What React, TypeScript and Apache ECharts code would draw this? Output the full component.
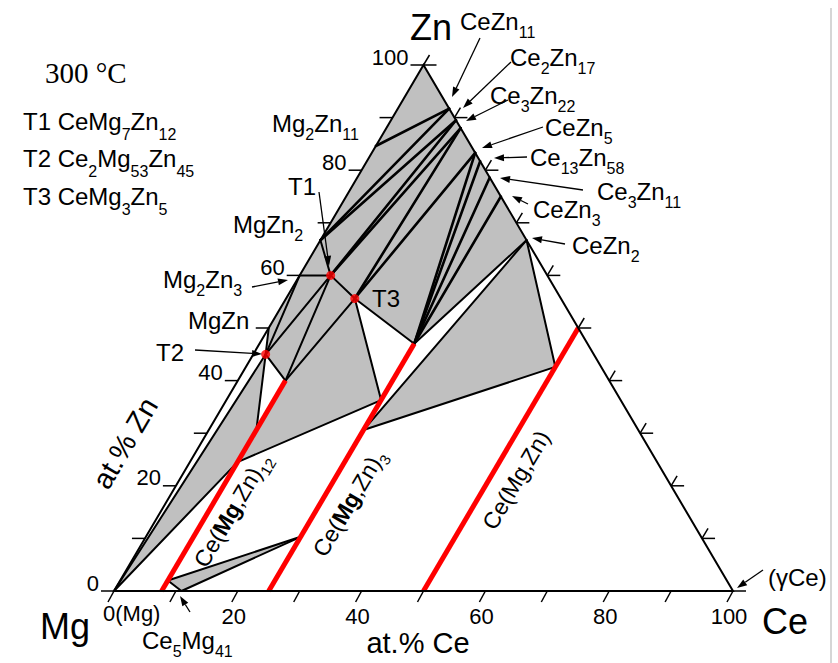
import React, { useEffect, useRef } from 'react';
import * as echarts from 'echarts';

type P = [number, number]; // [at.% Ce, at.% Zn]

const SANS = '"Liberation Sans", Arial, Helvetica, sans-serif';
const SERIF = '"Liberation Serif", "Times New Roman", serif';

// ---------- corners ----------
const MG: P = [0, 0];
const ZN: P = [0, 100];
const CE: P = [100, 0];

// ---------- Mg–Zn binary phases ----------
const MgZn: P = [0, 50];
const Mg2Zn3: P = [0, 60];
const MgZn2: P = [0, 66.7];
const Mg2Zn11: P = [0, 84.6];

// ---------- Ce–Zn binary phases ----------
const CeZn11: P = [8.3, 91.7];
const Ce2Zn17: P = [10.5, 89.5];
const Ce3Zn22: P = [12, 88];
const CeZn5: P = [16.7, 83.3];
const Ce13Zn58: P = [18.3, 81.7];
const Ce3Zn11: P = [21.4, 78.6];
const CeZn3: P = [25, 75];
const CeZn2: P = [33.3, 66.7];
const CeZn: P = [50, 50];

// ---------- Mg–Ce side ----------
const Ce5Mg41: P = [10.9, 0];

// ---------- ternary compounds ----------
const T1: P = [5, 60];
const T2: P = [2, 45];
const T3: P = [11.1, 55.6];
const TERNARY_POINTS: P[] = [T1, T2, T3];

// ---------- solid-solution lines (constant Ce) ----------
const S12_0: P = [7.7, 0];
const S12_2: P = [7.7, 2];
const S12_B: P = [7.7, 24.5];
const S12_G: P = [7.7, 30.6];
const S12_A: P = [7.7, 40];
const S3_0: P = [25, 0];
const S3_10: P = [25, 10.3];
const S3_E: P = [25, 30.6];
const S3_D: P = [25, 36.3];
const S3_C: P = [25, 47];
const S1_0: P = [50, 0];
const S1_F: P = [50, 42.6];

const RED_LINES: [P, P][] = [
  [S12_0, S12_A],
  [S3_0, S3_C],
  [S1_0, CeZn],
];

// ---------- regions ----------
const GRAY_REGIONS: P[][] = [
  [ZN, CeZn2, S1_F, S3_E, S3_D, S12_B, MG],
  [S12_2, Ce5Mg41, S3_10],
];
const WHITE_REGIONS: P[][] = [
  [MG, MgZn, T2],
  [T2, S12_A, S12_G],
  [T3, S3_C, S3_D],
  [S3_C, CeZn2, S3_E],
];

// ---------- tie lines ----------
const LOWER_TIES: [P, P][] = [
  [MG, T2], [MG, S12_B], [S12_B, S3_D], [T3, S3_D], [T3, S3_C],
  [S3_E, S1_F], [S1_F, CeZn2], [S3_E, CeZn2], [S3_C, CeZn2],
  [T2, S12_G], [T2, S12_A], [S12_A, T3], [T1, S12_A], [T1, T3], [T1, T2],
  [MgZn, T2], [Mg2Zn3, T2], [Mg2Zn3, T1], [MgZn2, T1],
  [S12_2, Ce5Mg41], [Ce5Mg41, S3_10], [S12_2, S3_10],
];
const UPPER_TIES: [P, P][] = [
  [Mg2Zn11, CeZn11], [MgZn2, CeZn11], [MgZn2, Ce2Zn17],
  [T1, Ce2Zn17], [T1, Ce3Zn22], [T3, Ce3Zn22], [T3, CeZn5],
  [S3_C, CeZn5], [S3_C, Ce13Zn58], [S3_C, Ce3Zn11], [S3_C, CeZn3],
];

// ---------- axes ----------
const TICK_VALUES = [0, 10, 20, 30, 40, 50, 60, 70, 80, 90, 100];
const ZN_LABELS = [0, 20, 40, 60, 80, 100];
const CE_LABELS = [0, 20, 40, 60, 80, 100];

// ---------- annotations (text, left x, centre y) ----------
const COMPOUND_LABELS: [string, number, number][] = [
  ['CeZn_{11}', 460, 21],
  ['Ce_{2}Zn_{17}', 510, 57],
  ['Ce_{3}Zn_{22}', 490, 95],
  ['CeZn_{5}', 545, 127],
  ['Ce_{13}Zn_{58}', 530, 157],
  ['Ce_{3}Zn_{11}', 597, 191],
  ['CeZn_{3}', 533, 209],
  ['CeZn_{2}', 572, 245],
  ['Mg_{2}Zn_{11}', 272, 123],
  ['MgZn_{2}', 233, 224],
  ['Mg_{2}Zn_{3}', 163, 279],
  ['MgZn', 188, 320],
  ['T1', 288, 186],
  ['T2', 156, 352],
  ['T3', 372, 298],
  ['(γCe)', 768, 577],
  ['Ce_{5}Mg_{41}', 142, 640],
];
const LEGEND_ROWS: [string, number][] = [
  ['T1 CeMg_{7}Zn_{12}', 121],
  ['T2 Ce_{2}Mg_{53}Zn_{45}', 158],
  ['T3 CeMg_{3}Zn_{5}', 196],
];
const PHASE_LINE_LABELS: [string, number, number][] = [
  ['Ce(*{Mg},Zn)_{12}', 232, 510],
  ['Ce(*{Mg},Zn)_{3}', 349, 503],
  ['Ce(Mg,Zn)', 516, 480],
];
const ARROWS: [number, number, number, number][] = [
  [480, 38, 452, 97],
  [511, 62, 463, 108],
  [508, 100, 466, 121],
  [543, 127, 482, 148],
  [527, 157, 494, 158],
  [583, 190, 500, 178],
  [528, 204, 512, 196],
  [565, 244, 532, 238],
  [252, 287, 288, 280],
  [319, 192, 329, 266],
  [195, 350, 262, 354],
  [190, 612, 180, 596],
  [763, 570, 737, 588],
];

const toXY = (p: P): number[] => [p[0] + p[1] / 2, p[1]];

let measureCtx: CanvasRenderingContext2D | null = null;
function measure(text: string, font: string): number {
  if (!measureCtx) measureCtx = document.createElement('canvas').getContext('2d');
  if (!measureCtx) return text.length * 10;
  measureCtx.font = font;
  return measureCtx.measureText(text).width;
}

type Tok = { t: string; k: 'm' | 's' | 'b' };
function tokens(spec: string): Tok[] {
  const out: Tok[] = [];
  const re = /_\{([^}]*)\}|\*\{([^}]*)\}|([^_*]+)/g;
  let m: RegExpExecArray | null;
  while ((m = re.exec(spec))) {
    if (m[1] !== undefined) out.push({ t: m[1], k: 's' });
    else if (m[2] !== undefined) out.push({ t: m[2], k: 'b' });
    else out.push({ t: m[3], k: 'm' });
  }
  return out;
}

const TOP_Z = 100;

function richGroup(spec: string, x: number, y: number, size: number, sub: number, off: number,
  align: 'left' | 'center' = 'left', rotation = 0) {
  const toks = tokens(spec);
  const fonts = {
    m: `${size}px ${SANS}`,
    b: `bold ${size}px ${SANS}`,
    s: `${sub}px ${SANS}`,
  };
  const widths = toks.map((tk) => measure(tk.t, fonts[tk.k]));
  const total = widths.reduce((a, b) => a + b, 0);
  let cx = align === 'left' ? 0 : -total / 2;
  const children = toks.map((tk, i) => {
    const el = {
      type: 'text',
      z: TOP_Z,
      x: cx,
      y: tk.k === 's' ? off : 0,
      style: { text: tk.t, fill: '#000', font: fonts[tk.k], align: 'left', verticalAlign: 'middle' },
    };
    cx += widths[i];
    return el;
  });
  return { type: 'group', x, y, rotation, z: TOP_Z, children };
}

const polySeries = (polys: P[][], fill: string, z: number) => ({
  type: 'custom',
  coordinateSystem: 'cartesian2d',
  silent: true,
  clip: false,
  z,
  data: polys.map(() => [50, 50]),
  renderItem: (params: any, api: any) => ({
    type: 'polygon',
    shape: { points: polys[params.dataIndex].map((p) => api.coord(toXY(p))) },
    style: { fill, stroke: fill, lineWidth: 0.5 },
  }),
});

const segSeries = (segs: [P, P][], color: string, width: number, z: number, cap: string) => ({
  type: 'custom',
  coordinateSystem: 'cartesian2d',
  silent: true,
  clip: false,
  z,
  data: segs.map(() => [50, 50]),
  renderItem: (params: any, api: any) => {
    const [a, b] = segs[params.dataIndex];
    const p1 = api.coord(toXY(a));
    const p2 = api.coord(toXY(b));
    return {
      type: 'line',
      shape: { x1: p1[0], y1: p1[1], x2: p2[0], y2: p2[1] },
      style: { stroke: color, lineWidth: width, lineCap: cap },
    };
  },
});

const axisSeries = {
  type: 'custom',
  coordinateSystem: 'cartesian2d',
  silent: true,
  clip: false,
  z: 20,
  data: [[50, 50]],
  renderItem: (_params: any, api: any) => {
    const ch: any[] = [];
    const c = (p: P) => api.coord(toXY(p));
    const ln = (x1: number, y1: number, x2: number, y2: number) => ({
      type: 'line', shape: { x1, y1, x2, y2 }, style: { stroke: '#000', lineWidth: 1.5 },
    });
    const txt = (t: string, x: number, y: number, align: string) => ({
      type: 'text', x, y,
      style: { text: t, fill: '#000', font: `22px ${SANS}`, align, verticalAlign: 'middle' },
    });
    ch.push({
      type: 'polygon',
      shape: { points: [MG, CE, ZN].map(c) },
      style: { fill: 'none', stroke: '#000', lineWidth: 2 },
    });
    for (const v of TICK_VALUES) {
      const [lx, ly] = c([0, v]);
      ch.push(ln(lx - 13, ly, lx, ly));
      const [rx, ry] = c([100 - v, v]);
      ch.push(ln(rx, ry, rx + 13, ry));
      if (v > 0) ch.push(ln(rx, ry, rx + 6, ry - 10));
      const [bx, by] = c([v, 0]);
      ch.push(ln(bx, by, bx - 6, by + 11));
    }
    for (const v of ZN_LABELS) {
      const [lx, ly] = c([0, v]);
      ch.push(txt(String(v), lx - 15, ly - 8, 'right'));
    }
    for (const v of CE_LABELS) {
      const [bx, by] = c([v, 0]);
      if (v === 0) ch.push(txt('0(Mg)', bx - 11, by + 22, 'left'));
      else ch.push(txt(String(v), bx - 4, by + 25, 'center'));
    }
    return { type: 'group', children: ch };
  },
};

function buildGraphic() {
  const g: any[] = [];
  const ROT = (59.5 * Math.PI) / 180;
  const plain = (t: string, x: number, y: number, font: string, align = 'center', rotation = 0) =>
    g.push({
      type: 'text', x, y, rotation, z: TOP_Z,
      style: { text: t, fill: '#000', font, align, verticalAlign: 'middle' },
    });

  plain('Zn', 431, 27, `36px ${SANS}`);
  plain('Mg', 65, 626, `36px ${SANS}`);
  plain('Ce', 785, 621, `36px ${SANS}`);
  plain('at.% Ce', 418, 643, `29px ${SANS}`);
  plain('at.% Zn', 125, 443, `29px ${SANS}`, 'center', ROT);
  plain('300 °C', 45, 73, `29px ${SERIF}`, 'left');

  for (const [t, x, y] of COMPOUND_LABELS) g.push(richGroup(t, x, y, 24, 16, 11));
  for (const [t, y] of LEGEND_ROWS) g.push(richGroup(t, 23, y, 24, 16, 13));
  for (const [t, x, y] of PHASE_LINE_LABELS) g.push(richGroup(t, x, y, 23, 15, 9, 'center', ROT));

  for (const [x1, y1, x2, y2] of ARROWS) {
    const dx = x2 - x1;
    const dy = y2 - y1;
    const len = Math.hypot(dx, dy);
    const ux = dx / len;
    const uy = dy / len;
    const hl = 10;
    const hw = 3.5;
    const bx = x2 - ux * hl;
    const by = y2 - uy * hl;
    g.push({
      type: 'line', z: TOP_Z,
      shape: { x1, y1, x2: bx, y2: by },
      style: { stroke: '#000', lineWidth: 1.3 },
    });
    g.push({
      type: 'polygon', z: TOP_Z,
      shape: { points: [[x2, y2], [bx - uy * hw, by + ux * hw], [bx + uy * hw, by - ux * hw]] },
      style: { fill: '#000' },
    });
  }
  g.push({
    type: 'line', z: TOP_Z,
    shape: { x1: 831, y1: 8, x2: 831, y2: 663 },
    style: { stroke: '#c8c8c8', lineWidth: 1.5 },
  });
  return g;
}

export default function App() {
  const ref = useRef<HTMLDivElement>(null);
  useEffect(() => {
    document.body.style.margin = '0';
    const chart = echarts.init(ref.current!, null, { renderer: 'svg' });
    chart.setOption({
      animation: false,
      backgroundColor: '#fff',
      grid: { left: 114, top: 65, width: 619, height: 526 },
      xAxis: { type: 'value', min: 0, max: 100, show: false },
      yAxis: { type: 'value', min: 0, max: 100, show: false },
      series: [
        polySeries(GRAY_REGIONS, '#c0c0c0', 1),
        polySeries(WHITE_REGIONS, '#ffffff', 2),
        segSeries(LOWER_TIES, '#000', 2, 5, 'round'),
        segSeries(UPPER_TIES, '#000', 2.6, 5, 'round'),
        segSeries(RED_LINES, '#ff0000', 5, 8, 'butt'),
        axisSeries,
        {
          type: 'scatter',
          silent: true,
          z: 30,
          symbol: 'circle',
          symbolSize: 9,
          itemStyle: { color: '#ff0000' },
          data: TERNARY_POINTS.map(toXY),
        },
      ],
      graphic: buildGraphic(),
    });
    return () => chart.dispose();
  }, []);
  return (
    <div
      ref={ref}
      style={{ position: 'absolute', left: 0, top: 0, width: 838, height: 663, background: '#fff' }}
    />
  );
}
